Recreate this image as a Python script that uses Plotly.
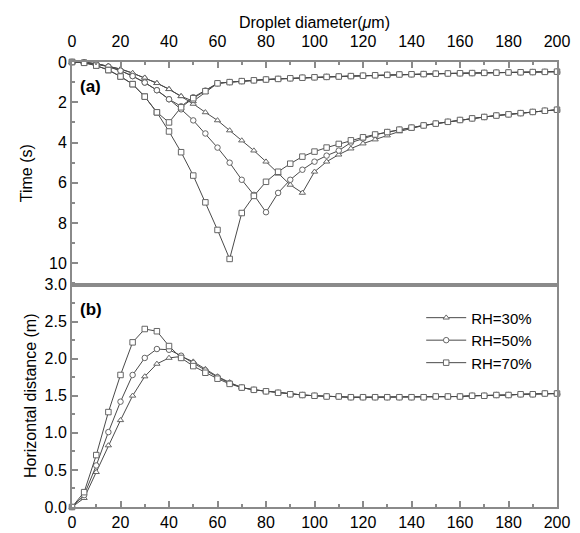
import plotly.graph_objects as go

diameter = list(range(0, 205, 5))

# (a) time, big-V curves (evaporation branch then settling branch)
time_rh30 = [0, 0.02, 0.08, 0.2, 0.35, 0.55, 0.78, 1.05, 1.35, 1.7, 2.08, 2.5, 2.9, 3.4, 3.9,
             4.4, 4.95, 5.55, 6.1, 6.5, 5.45, 4.95, 4.6, 4.3, 4.05, 3.85, 3.65, 3.45, 3.3,
             3.15, 3.06, 2.97, 2.88, 2.8, 2.73, 2.66, 2.6, 2.54, 2.48, 2.42, 2.37]
time_rh50 = [0, 0.03, 0.1, 0.23, 0.43, 0.7, 1.02, 1.4, 1.85, 2.35, 2.9, 3.55, 4.25, 5.0, 5.85,
             6.6, 7.46, 6.5, 5.85, 5.35, 4.95, 4.65, 4.4, 4.0, 3.8, 3.62, 3.48, 3.36, 3.26,
             3.15, 3.06, 2.97, 2.88, 2.8, 2.73, 2.66, 2.6, 2.54, 2.48, 2.42, 2.37]
time_rh70 = [0, 0.04, 0.18, 0.4, 0.72, 1.1, 1.72, 2.5, 3.45, 4.48, 5.64, 6.97, 8.34, 9.78, 7.5,
             6.65, 5.95, 5.45, 5.05, 4.7, 4.45, 4.25, 4.07, 3.89, 3.74, 3.6, 3.48, 3.36, 3.26,
             3.15, 3.06, 2.97, 2.88, 2.8, 2.73, 2.66, 2.6, 2.54, 2.48, 2.42, 2.37]

# (a) time, small-V curves
top_tail = [1.13, 1.06, 1.0, 0.95, 0.91, 0.87, 0.84, 0.81, 0.78, 0.76, 0.74, 0.72, 0.7, 0.68,
            0.66, 0.64, 0.62, 0.61, 0.6, 0.58, 0.57, 0.56, 0.55, 0.54, 0.53, 0.52, 0.51, 0.5,
            0.49, 0.48]
time2_rh30 = [0, 0.02, 0.08, 0.2, 0.35, 0.55, 0.78, 1.05, 1.35, 1.7, 1.95, 1.5] + top_tail[1:] + [0.48]
time2_rh50 = [0, 0.03, 0.1, 0.23, 0.43, 0.7, 1.02, 1.4, 1.85, 2.2, 1.75, 1.42] + top_tail[1:] + [0.48]
time2_rh70 = [0, 0.04, 0.18, 0.4, 0.72, 1.1, 1.72, 2.5, 3.0, 2.25, 1.8, 1.45] + top_tail[1:] + [0.48]

# (b) horizontal distance
common_b = [1.61, 1.58, 1.56, 1.54, 1.52, 1.51, 1.5, 1.49, 1.49, 1.48, 1.48, 1.48, 1.48, 1.48,
            1.48, 1.48, 1.49, 1.49, 1.49, 1.5, 1.5, 1.51, 1.51, 1.52, 1.52, 1.53, 1.53]
dist_rh30 = [0, 0.12, 0.47, 0.83, 1.17, 1.5, 1.76, 1.93, 2.01, 2.03, 1.96, 1.86, 1.76, 1.68] + common_b
dist_rh50 = [0, 0.16, 0.56, 1.01, 1.42, 1.78, 2.01, 2.13, 2.12, 2.04, 1.94, 1.84, 1.75, 1.67] + common_b
dist_rh70 = [0, 0.2, 0.7, 1.28, 1.78, 2.22, 2.4, 2.37, 2.17, 2.01, 1.9, 1.81, 1.73, 1.66] + common_b

labels = ["RH=30%", "RH=50%", "RH=70%"]
symbols = ["triangle-up", "circle", "square"]

LINE = "#4a4a4a"
AX = "#8a8a8a"
FONT = "Liberation Sans, Arial, sans-serif"

fig = go.Figure()


def add(y, sym, xa, ya, name=None, legend=False):
    fig.add_trace(go.Scatter(
        x=diameter, y=y, mode="lines+markers", name=name, showlegend=legend,
        xaxis=xa, yaxis=ya, cliponaxis=False,
        line=dict(color=LINE, width=1),
        marker=dict(symbol=sym, size=5.5, color="white", line=dict(width=1, color="#666666")),
    ))


for y1, y2, sym in zip([time_rh30, time_rh50, time_rh70], [time2_rh30, time2_rh50, time2_rh70], symbols):
    add(y1, sym, "x", "y")
    add(y2, sym, "x", "y")

for y, sym, lab in zip([dist_rh30, dist_rh50, dist_rh70], symbols, labels):
    add(y, sym, "x2", "y2", name=lab, legend=True)

axis_common = dict(
    showline=True, linecolor=AX, linewidth=2, mirror=True, showgrid=False, zeroline=False,
    ticks="inside", ticklen=6, tickcolor=AX, tickwidth=1.5, automargin=False,
    tickfont=dict(size=16, color="black", family=FONT),
)

# page body keeps its default 8px margin, so the figure is drawn 8px smaller
fig.update_layout(
    width=572, height=525,
    margin=dict(l=64, r=23, t=54, b=26),
    paper_bgcolor="white", plot_bgcolor="white",
    font=dict(family=FONT, color="black", size=16),
    xaxis=dict(domain=[0, 1], anchor="y", side="top", range=[0, 200], dtick=20,
               ticklabelstandoff=7,
               minor=dict(dtick=10, ticks="inside", ticklen=3, tickcolor=AX),
               title=dict(text="Droplet diameter(<i>μ</i>m)", font=dict(size=16), standoff=0),
               **axis_common),
    yaxis=dict(domain=[0.5, 1], anchor="x", range=[11.05, 0], dtick=2,
               minor=dict(dtick=1, ticks="inside", ticklen=3, tickcolor=AX),
               title=dict(text="Time (s)", font=dict(size=16), standoff=12),
               **axis_common),
    xaxis2=dict(domain=[0, 1], anchor="y2", range=[0, 200], dtick=20,
                minor=dict(dtick=10, ticks="inside", ticklen=3, tickcolor=AX),
                **axis_common),
    yaxis2=dict(domain=[0, 0.5], anchor="x2", range=[0, 3], dtick=0.5, tickformat=".1f",
                minor=dict(dtick=0.25, ticks="inside", ticklen=3, tickcolor=AX),
                title=dict(text="Horizontal distance (m)", font=dict(size=16), standoff=4),
                **axis_common),
    legend=dict(x=0.72, y=0.462, xanchor="left", yanchor="top", bgcolor="rgba(0,0,0,0)",
                font=dict(size=15), tracegroupgap=0, itemwidth=40),
    annotations=[
        dict(text="<b>(a)</b>", xref="paper", yref="paper", x=0.012, y=0.945,
             xanchor="left", yanchor="middle", showarrow=False, font=dict(size=17)),
        dict(text="<b>(b)</b>", xref="paper", yref="paper", x=0.012, y=0.443,
             xanchor="left", yanchor="middle", showarrow=False, font=dict(size=17)),
    ],
)

fig.write_html("out.html")
